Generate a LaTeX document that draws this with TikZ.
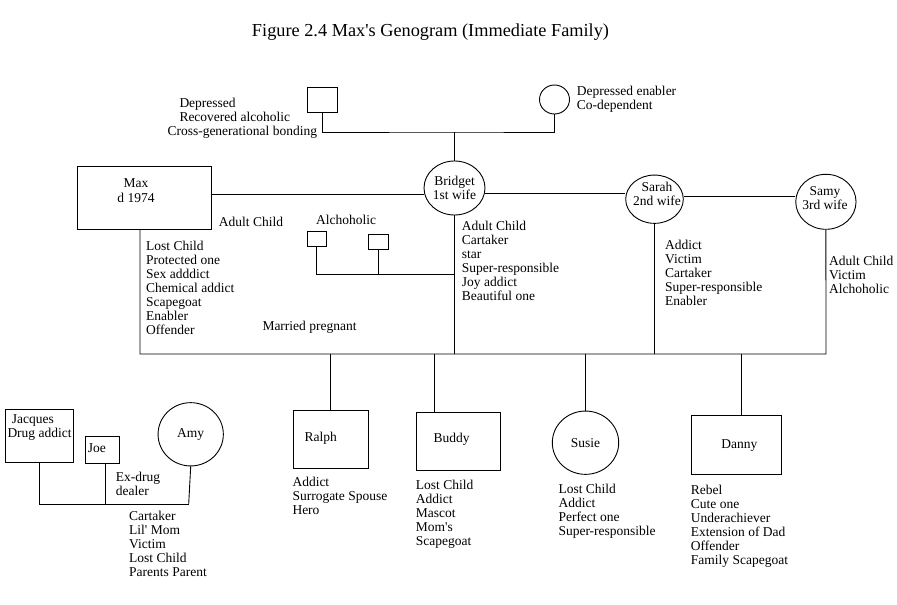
\documentclass[tikz,border=0pt]{standalone}
\usepackage{fontspec}
\setmainfont{Liberation Serif}
\usetikzlibrary{shapes.geometric}
\newcommand{\sq}{\textquotesingle}
\begin{document}
\begin{tikzpicture}[x=1pt,y=-1pt,
  sq/.style={draw, rectangle, inner sep=0pt, line width=0.9pt},
  fem/.style={draw, ellipse, inner sep=0pt, line width=0.9pt, font=\fontsize{13.5}{14}\selectfont, align=center},
  lst/.style={anchor=north west, inner sep=0pt, align=left, font=\fontsize{13.5}{14}\selectfont, execute at begin node=\strut},
  lbl/.style={inner sep=0pt, anchor=base, font=\fontsize{13.5}{14}\selectfont},
  link/.style={line width=0.9pt}]
\fill[white] (0,0) rectangle (897,605);
\useasboundingbox (0,0) rectangle (897,605);

% title
\node[inner sep=0pt, anchor=base, font=\fontsize{18.3}{20}\selectfont] (title) at (430.5,36) {Figure 2.4 Max\sq s Genogram (Immediate Family)};

% grandparents
\node[sq, minimum width=30pt, minimum height=25pt] (GF) at (322,99.5) {};
\node[fem, minimum width=30pt, minimum height=29pt] (GM) at (554.5,99.5) {};
\node[lst] (GFt) at (167.3,97.7) {\hspace{12pt}Depressed\\\hspace{12pt}Recovered alcoholic\\Cross-generational bonding};
\node[lst] (GMt) at (576.7,86.4) {Depressed enabler\\Co-dependent};

% Max and wives
\node[sq, minimum width=134.4pt, minimum height=62.3pt] (Max) at (144.5,197.85) {};
\node[inner sep=0pt, align=center, font=\fontsize{13.5}{15}\selectfont] (Maxt) at (136,191) {Max\\d 1974};
\node[fem, minimum width=59pt, minimum height=54pt] (Bridget) at (454.5,188) {Bridget\\1st wife};
\node[fem, minimum width=57.6pt, minimum height=48.3pt] (Sarah) at (654.5,199.2) {};
\node[lst, anchor=north, align=center] (Saraht) at (657,182) {Sarah\\2nd wife};
\node[fem, minimum width=60.3pt, minimum height=55pt] (Samy) at (825.9,201.8) {};
\node[lst, anchor=north, align=center] (Samyt) at (825,186.4) {Samy\\3rd wife};

\node[lst] (adult) at (218.7,216.4) {Adult Child};
\node[lst] (Maxl) at (146,241.4) {Lost Child\\Protected one\\Sex adddict\\Chemical addict\\Scapegoat\\Enabler\\Offender};
\node[lst] (married) at (262.3,320.4) {Married pregnant};
\node[lst] (alc) at (316,214.7) {Alchoholic};
\node[sq, minimum width=19.7pt, minimum height=14.3pt] (A1) at (316.8,238.8) {};
\node[sq, minimum width=20pt, minimum height=15pt] (A2) at (378.3,241.8) {};
\node[lst] (Bridgetl) at (461.7,221.4) {Adult Child\\Cartaker\\star\\Super-responsible\\Joy addict\\Beautiful one};
\node[lst] (Sarahl) at (665,240.4) {Addict\\Victim\\Cartaker\\Super-responsible\\Enabler};
\node[lst] (Samyl) at (829,256.4) {Adult Child\\Victim\\Alchoholic};

% children
\node[sq, minimum width=75pt, minimum height=58.3pt] (Ralph) at (330.8,439.2) {};
\node[lbl] (Ralpht) at (320.8,441.2) {Ralph};
\node[lst] (Ralphl) at (292.3,477.4) {Addict\\Surrogate Spouse\\Hero};
\node[sq, minimum width=83.6pt, minimum height=57.7pt] (Buddy) at (458.5,441.2) {};
\node[lbl] (Buddyt) at (451.7,442.2) {Buddy};
\node[lst] (Buddyl) at (415.7,479.7) {Lost Child\\Addict\\Mascot\\Mom\sq s\\Scapegoat};
\node[fem, minimum width=66.4pt, minimum height=63.3pt] (Susie) at (585.5,442.7) {Susie};
\node[lst] (Susiel) at (558.3,483.7) {Lost Child\\Addict\\Perfect one\\Super-responsible};
\node[sq, minimum width=90.4pt, minimum height=59pt] (Danny) at (736.5,444.8) {};
\node[lbl] (Dannyt) at (739.3,448.8) {Danny};
\node[lst] (Dannyl) at (690.7,485.4) {Rebel\\Cute one\\Underachiever\\Extension of Dad\\Offender\\Family Scapegoat};

% Amy's family
\node[sq, minimum width=68.3pt, minimum height=53.3pt] (Jacques) at (39.2,435.7) {};
\node[lst] (Jacquest) at (7.3,414.7) {\hspace{4.4pt}Jacques\\Drug addict};
\node[sq, minimum width=34.3pt, minimum height=27pt] (Joe) at (102.2,449.8) {};
\node[lbl, anchor=base west] (Joet) at (87.7,452.2) {Joe};
\node[fem, minimum width=65.3pt, minimum height=63.3pt] (Amy) at (190.7,434.3) {Amy};
\node[lst] (exdrug) at (115.7,472) {Ex-drug\\dealer};
\node[lst] (Amyl) at (129,510.7) {Cartaker\\Lil\sq{} Mom\\Victim\\Lost Child\\Parents Parent};

% connectors
\coordinate (gbar) at (454.5,132);
\draw[link] (GF.south) |- (gbar) -| (GM.south);
\draw[link] (gbar) -- (Bridget.north);
\draw[link] ([yshift=3.5pt]Max.east) -- ([yshift=3.5pt]Max.east -| Bridget.west);
\draw[link] (Bridget.east |- 0,193.3) -- (Sarah.west |- 0,193.3);
\draw[link] (Sarah.east |- 0,196.7) -- (Samy.west |- 0,196.7);
\coordinate (bar) at (826,354);
\draw[link] ([xshift=-4.5pt]Max.south) |- (bar) -- (Samy.south);
\draw[link] (Bridget.south) -- (Bridget.south |- bar);
\draw[link] (Sarah.south) -- (Sarah.south |- bar);
\draw[link] (A1.south) |- (Bridget.south |- 0,274);
\draw[link] (A2.south) -- (A2.south |- 0,274);
\draw[link] (Ralph.north |- bar) -- (Ralph.north);
\draw[link] ([xshift=-24.2pt]Buddy.north |- bar) -- ([xshift=-24.2pt]Buddy.north);
\draw[link] (Susie.north |- bar) -- (Susie.north);
\draw[link] ([xshift=4.8pt]Danny.north |- bar) -- ([xshift=4.8pt]Danny.north);
\coordinate (abar) at (188.7,504);
\draw[link] (Jacques.south) |- (abar);
\draw[link] ([xshift=3.5pt]Joe.south) -- ([xshift=3.5pt]Joe.south |- abar);
\draw[link] (Amy.south) -- (abar);
\end{tikzpicture}
\end{document}
